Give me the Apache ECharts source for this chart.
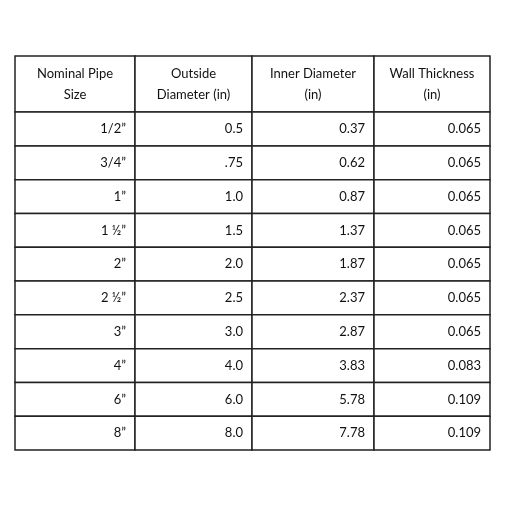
<!DOCTYPE html>
<html>
<head>
<meta charset="utf-8"/>
<script src="https://cdn.jsdelivr.net/npm/echarts@6/dist/echarts.min.js"></script>
<style>html,body{margin:0;background:#fff}</style>
</head>
<body>
<div id="main" style="width:512px;height:512px"></div>
<script>
// table contents
var headers = ['Nominal Pipe\nSize', 'Outside\nDiameter (in)', 'Inner Diameter\n(in)', 'Wall Thickness\n(in)'];
var sizes = ['1/2\u201d', '3/4\u201d', '1\u201d', '1 \u00bd\u201d', '2\u201d', '2 \u00bd\u201d', '3\u201d', '4\u201d', '6\u201d', '8\u201d'];
var outside = ['0.5', '.75', '1.0', '1.5', '2.0', '2.5', '3.0', '4.0', '6.0', '8.0'];
var inner = ['0.37', '0.62', '0.87', '1.37', '1.87', '2.37', '2.87', '3.83', '5.78', '7.78'];
var wall = ['0.065', '0.065', '0.065', '0.065', '0.065', '0.065', '0.065', '0.083', '0.109', '0.109'];

var headH = 1.66; // header row is taller
var cells = [];
headers.forEach(function (h, c) { cells.push([c, 0, headH, h, 1]); });
var cols = [sizes, outside, inner, wall];
for (var r = 0; r < sizes.length; r++) {
  for (var c = 0; c < 4; c++) cells.push([c, headH + r, 1, cols[c][r], 0]);
}
var colX = [0, 120, 237, 359, 475];

var chart = echarts.init(document.getElementById('main'));
chart.setOption({
  animation: false,
  grid: {left: 15, right: 22, top: 56, bottom: 62},
  xAxis: {type: 'value', min: 0, max: 475, show: false},
  yAxis: {type: 'value', min: 0, max: headH + sizes.length, inverse: true, show: false},
  series: [{
    type: 'custom',
    data: cells,
    renderItem: function (params, api) {
      var c = api.value(0), y0 = api.value(1), h = api.value(2);
      var p0 = api.coord([colX[c], y0]);
      var p1 = api.coord([colX[c + 1], y0 + h]);
      var isHead = api.value(4) === 1;
      var txt = cells[params.dataIndex][3];
      return {
        type: 'group',
        children: [{
          type: 'rect',
          shape: {x: p0[0], y: p0[1], width: p1[0] - p0[0], height: p1[1] - p0[1]},
          style: {fill: '#fff', stroke: '#222', lineWidth: 1.5}
        }, {
          type: 'text',
          style: {
            text: txt,
            x: isHead ? (p0[0] + p1[0]) / 2 : p1[0] - 9,
            y: (p0[1] + p1[1]) / 2,
            align: isHead ? 'center' : 'right',
            verticalAlign: 'middle',
            fontFamily: 'Lato, "Open Sans", sans-serif',
            fontSize: 13,
            lineHeight: 21,
            fill: '#111'
          }
        }]
      };
    }
  }]
});
</script>
</body>
</html>
